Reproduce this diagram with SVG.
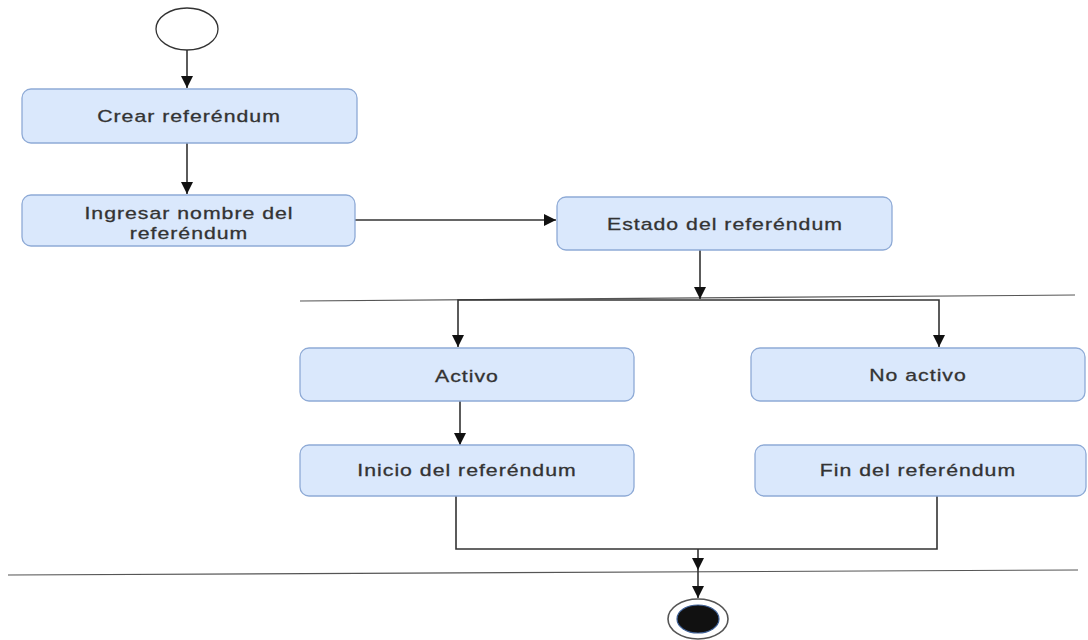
<svg xmlns="http://www.w3.org/2000/svg" width="1088" height="640" viewBox="0 0 1088 640">
  <style>
    .box { fill: #dae8fc; stroke: #8eaad6; stroke-width: 1.3; }
    .lbl { font-family: "Liberation Sans", Arial, sans-serif; font-size: 17px; fill: #333; stroke: #333; stroke-width: 0.3; text-anchor: middle; letter-spacing: 0.8px; }
    .conn { fill: none; stroke: #333; stroke-width: 1.6; }
    .thin { fill: none; stroke: #555; stroke-width: 1.1; }
  </style>
  <defs>
    <marker id="arr" markerWidth="14" markerHeight="12" refX="12" refY="6" orient="auto" markerUnits="userSpaceOnUse">
      <path d="M0,0 L12,6 L0,12 Z" fill="#111"/>
    </marker>
  </defs>
  <rect width="1088" height="640" fill="#ffffff"/>

  <g id="separators">
    <line class="thin" x1="300" y1="301" x2="1075" y2="295"/>
    <line class="thin" x1="8" y1="575" x2="1078" y2="570"/>
  </g>

  <g id="connectors">
    <path class="conn" d="M187,50 L187,88" marker-end="url(#arr)"/>
    <path class="conn" d="M187,143 L187,194" marker-end="url(#arr)"/>
    <path class="conn" d="M355,220 L556,220" marker-end="url(#arr)"/>
    <path class="conn" d="M700,250 L700,299" marker-end="url(#arr)"/>
    <path class="conn" d="M700,300 L458,300 L458,347" marker-end="url(#arr)"/>
    <path class="conn" d="M700,300 L939,300 L939,347" marker-end="url(#arr)"/>
    <path class="conn" d="M460,401 L460,445" marker-end="url(#arr)"/>
    <path class="conn" d="M456,496 L456,549 L937,549 L937,496"/>
    <path class="conn" d="M698,549 L698,570" marker-end="url(#arr)"/>
    <path class="conn" d="M698,570 L698,598" marker-end="url(#arr)"/>
  </g>

  <g id="start">
    <ellipse cx="187" cy="29" rx="31" ry="21" fill="#ffffff" stroke="#333" stroke-width="1.3"/>
  </g>

  <g id="crear">
    <rect class="box" x="22" y="89" width="335" height="54" rx="9"/>
    <text class="lbl" transform="translate(189,122) scale(1.25,1)">Crear referéndum</text>
  </g>

  <g id="ingresar">
    <rect class="box" x="22" y="195" width="333" height="51" rx="9"/>
    <text class="lbl" transform="translate(189,219) scale(1.25,1)">Ingresar nombre del</text>
    <text class="lbl" transform="translate(189,239) scale(1.25,1)">referéndum</text>
  </g>

  <g id="estado">
    <rect class="box" x="557" y="197" width="335" height="53" rx="9"/>
    <text class="lbl" transform="translate(725,229.5) scale(1.25,1)">Estado del referéndum</text>
  </g>

  <g id="activo">
    <rect class="box" x="300" y="348" width="334" height="53" rx="9"/>
    <text class="lbl" transform="translate(467,381.5) scale(1.25,1)">Activo</text>
  </g>

  <g id="noactivo">
    <rect class="box" x="751" y="348" width="334" height="53" rx="9"/>
    <text class="lbl" transform="translate(918,380.5) scale(1.25,1)">No activo</text>
  </g>

  <g id="inicio">
    <rect class="box" x="300" y="445" width="334" height="51" rx="9"/>
    <text class="lbl" transform="translate(467,475.5) scale(1.25,1)">Inicio del referéndum</text>
  </g>

  <g id="fin">
    <rect class="box" x="755" y="445" width="331" height="51" rx="9"/>
    <text class="lbl" transform="translate(918,475.5) scale(1.25,1)">Fin del referéndum</text>
  </g>

  <g id="end">
    <ellipse cx="698" cy="619" rx="30" ry="20" fill="#ffffff" stroke="#555" stroke-width="1.6"/>
    <ellipse cx="698" cy="619" rx="21" ry="14" fill="#111" stroke="#3d5f95" stroke-width="1.2"/>
  </g>
</svg>
